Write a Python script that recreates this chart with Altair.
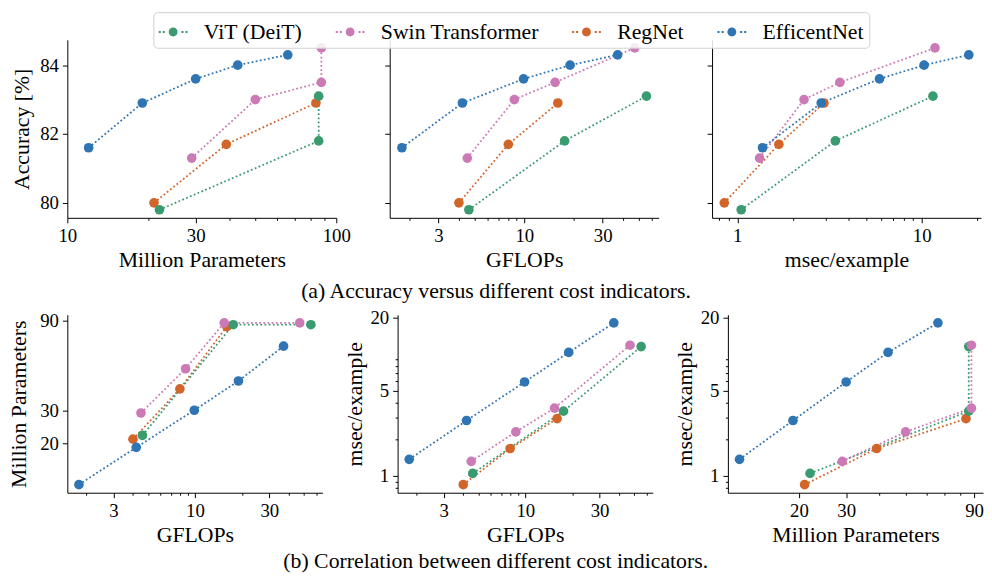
import math
import altair as alt
import pandas as pd

FONT = "Liberation Serif"

models = ["ViT (DeiT)", "Swin Transformer", "RegNet", "EfficentNet"]
colors = ["#3b9b70", "#cb7ab6", "#d2652a", "#2f74b3"]
draw_order = ["RegNet", "ViT (DeiT)", "Swin Transformer", "EfficentNet"]

vit_params = [22, 86, 86]
vit_gflops = [4.6, 17.6, 55.4]
vit_msec = [1.05, 3.4, 11.5]
vit_acc = [79.8, 81.8, 83.1]

swin_params = [29, 50, 88, 88]
swin_gflops = [4.5, 8.7, 15.4, 47.0]
swin_msec = [1.32, 2.3, 3.6, 11.8]
swin_acc = [81.3, 83.0, 83.5, 84.5]

regnet_params = [21, 39, 84]
regnet_gflops = [4.0, 8.0, 16.0]
regnet_msec = [0.85, 1.68, 2.95]
regnet_acc = [80.0, 81.7, 82.9]

eff_params = [12, 19, 30, 43, 66]
eff_gflops = [1.8, 4.2, 9.9, 19.0, 37.0]
eff_msec = [1.37, 2.85, 5.9, 10.3, 18.0]
eff_acc = [81.6, 82.9, 83.6, 84.0, 84.3]

series = {
    "ViT (DeiT)": (vit_params, vit_gflops, vit_msec, vit_acc),
    "Swin Transformer": (swin_params, swin_gflops, swin_msec, swin_acc),
    "RegNet": (regnet_params, regnet_gflops, regnet_msec, regnet_acc),
    "EfficentNet": (eff_params, eff_gflops, eff_msec, eff_acc),
}

rows = []
for name in draw_order:
    p, g, m, a = series[name]
    for i in range(len(p)):
        rows.append({"model": name, "idx": i, "rank": draw_order.index(name) * 10 + i,
                     "params": p[i], "gflops": g[i], "msec": m[i], "acc": a[i]})
df = pd.DataFrame(rows)


def log_domain(vals):
    lo, hi = math.log10(min(vals)), math.log10(max(vals))
    pad = 0.05 * (hi - lo)
    return [10 ** (lo - pad), 10 ** (hi + pad)]


def lin_domain(vals):
    lo, hi = min(vals), max(vals)
    pad = 0.05 * (hi - lo)
    return [lo - pad, hi + pad]


all_params = vit_params + swin_params + regnet_params + eff_params
all_gflops = vit_gflops + swin_gflops + regnet_gflops + eff_gflops
all_msec = vit_msec + swin_msec + regnet_msec + eff_msec
all_acc = vit_acc + swin_acc + regnet_acc + eff_acc

params_lim_a = [10, 100]

sc_acc = alt.Scale(domain=lin_domain(all_acc), zero=False, nice=False)
sc_params_a = alt.Scale(type="log", domain=params_lim_a, nice=False)
sc_params = alt.Scale(type="log", domain=log_domain(all_params), nice=False)
sc_gflops = alt.Scale(type="log", domain=log_domain(all_gflops), nice=False)
sc_msec = alt.Scale(type="log", domain=log_domain(all_msec), nice=False)

MAJOR_TICK = 5
MINOR_TICK = 2.5


def log_axis(title, major, minor, orient, title_pad=4):
    vals = sorted(set(major) | set(minor))
    arr = "[" + ",".join(repr(v) for v in major) + "]"
    test = f"indexof({arr}, datum.value) >= 0"
    return alt.Axis(
        values=vals,
        labelExpr=f"{test} ? datum.label : ''",
        format="~g",
        tickSize={"condition": {"test": test, "value": MAJOR_TICK}, "value": MINOR_TICK},
        labelOverlap=False,
        labelFlush=False,
        orient=orient,
        title=title,
        titlePadding=title_pad,
    )


def acc_axis(show):
    if show:
        return alt.Axis(values=[80, 82, 84], title="Accuracy [%]", tickSize=MAJOR_TICK,
                        labelPadding=4, titlePadding=6)
    return alt.Axis(values=[80, 82, 84], title=None, labels=False, tickSize=MAJOR_TICK)


color_scale = alt.Scale(domain=models, range=colors)

SYMBOL = ("M-0.3,0a0.3,0.3 0 1,0 0.6,0a0.3,0.3 0 1,0 -0.6,0z"
          "M-0.97,-0.07h0.14v0.14h-0.14z"
          "M-0.70,-0.07h0.14v0.14h-0.14z"
          "M0.56,-0.07h0.14v0.14h-0.14z"
          "M0.83,-0.07h0.14v0.14h-0.14z")

legend = alt.Legend(
    title=None, orient="none", legendX=87, legendY=-28, direction="horizontal",
    labelFont=FONT, labelFontSize=22, labelColor="black",
    symbolType=SYMBOL, symbolSize=900, symbolStrokeWidth=0, symbolOpacity=1,
    columnPadding=33, labelOffset=16, padding=5,
    strokeColor="#d0d0d0", cornerRadius=4, fillColor="rgba(255,255,255,0.85)",
)

mn_params = [20, 30, 40, 50, 60, 70, 80, 90]
mn_gflops = [2, 3, 4, 5, 6, 7, 8, 9, 20, 30, 40, 50, 60]
mn_msec = [0.8, 0.9, 2, 3, 4, 5, 6, 7, 8, 9, 20]


def panel(xf, yf, xscale, yscale, xaxis, yaxis, w, h):
    base = alt.Chart(df).encode(
        x=alt.X(f"{xf}:Q", scale=xscale, axis=xaxis),
        y=alt.Y(f"{yf}:Q", scale=yscale, axis=yaxis),
        color=alt.Color("model:N", scale=color_scale, legend=legend),
    )
    lines = base.mark_line(strokeDash=[1.8, 2.4], strokeWidth=1.8, strokeCap="butt").encode(
        order=alt.Order("idx:Q"), detail="model:N")
    points = base.mark_point(filled=True, size=95, opacity=1).encode(order=alt.Order("rank:Q"))
    return alt.layer(lines, points).properties(width=w, height=h)


WA, HA = 272, 180
WB, HB = 258, 180

p1 = panel("params", "acc", sc_params_a, sc_acc,
           log_axis("Million Parameters", [10, 30, 100], mn_params, "bottom"), acc_axis(True), WA, HA)
p2 = panel("gflops", "acc", sc_gflops, sc_acc,
           log_axis("GFLOPs", [3, 10, 30], mn_gflops, "bottom"), acc_axis(False), WA, HA)
p3 = panel("msec", "acc", sc_msec, sc_acc,
           log_axis("msec/example", [1, 10], mn_msec, "bottom"), acc_axis(False), WA, HA)

b1 = panel("gflops", "params", sc_gflops, sc_params,
           log_axis("GFLOPs", [3, 10, 30], mn_gflops, "bottom"),
           log_axis("Million Parameters", [20, 30, 90], [], "left", title_pad=9), WB, HB)
b2 = panel("gflops", "msec", sc_gflops, sc_msec,
           log_axis("GFLOPs", [3, 10, 30], mn_gflops, "bottom"),
           log_axis("msec/example", [1, 5, 20], mn_msec, "left"), WB, HB)
b3 = panel("params", "msec", sc_params, sc_msec,
           log_axis("Million Parameters", [20, 30, 90], [40, 50, 60, 70, 80], "bottom"),
           log_axis("msec/example", [1, 5, 20], mn_msec, "left"), WB, HB)

cap_kw = dict(orient="bottom", anchor="middle", fontSize=22, font=FONT,
              fontWeight="normal", color="black")

row_a = alt.hconcat(p1, p2, p3, spacing=54, bounds="flush").properties(
    title=alt.TitleParams("(a) Accuracy versus different cost indicators.", offset=11, **cap_kw))
row_b = alt.hconcat(b1, b2, b3, spacing=76, bounds="flush").properties(
    title=alt.TitleParams("(b) Correlation between different cost indicators.", offset=6, **cap_kw))

chart = alt.vconcat(row_a, row_b, spacing=6).properties(padding=0).configure_view(
    stroke=None
).configure_axis(
    grid=False, domainColor="black", tickColor="black", labelColor="black",
    titleColor="black", labelFont=FONT, titleFont=FONT, labelFontSize=19,
    titleFontSize=22, titleFontWeight="normal", domainWidth=1, tickWidth=1,
    labelPadding=4, titlePadding=4,
)

chart.save("out.html", embed_options={"renderer": "svg", "actions": False})
